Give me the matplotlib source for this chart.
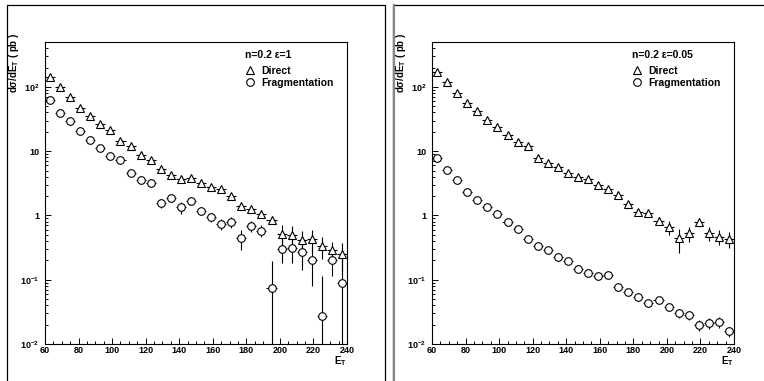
import numpy as np
import matplotlib
matplotlib.use('Agg')
import matplotlib.pyplot as plt
from matplotlib.lines import Line2D
from matplotlib.ticker import MultipleLocator, LogLocator, NullFormatter

plt.rcParams['font.family'] = ['Liberation Sans', 'DejaVu Sans']
plt.rcParams['font.weight'] = 'bold'
plt.rcParams['mathtext.fontset'] = 'custom'
plt.rcParams['mathtext.rm'] = 'Liberation Sans:bold'
plt.rcParams['mathtext.bf'] = 'Liberation Sans:bold'
plt.rcParams['mathtext.default'] = 'bf'

# bin centres (E_T)
et = [63, 69, 75, 81, 87, 93, 99, 105, 111, 117, 123, 129, 135, 141, 147,
      153, 159, 165, 171, 177, 183, 189, 195, 201, 207, 213, 219, 225, 231, 237]

# left panel: n=0.2 eps=1
left_dir = [144, 101, 69, 47, 35, 26.7, 21, 14.4, 12.1, 8.7, 7.3, 5.3, 4.3, 3.7, 3.8,
            3.15, 2.8, 2.55, 2.0, 1.39, 1.25, 1.04, 0.86, 0.52, 0.49, 0.42, 0.43, 0.34, 0.29, 0.25]
left_dir_err = [3, 2, 1.5, 1.2, 1, 0.8, 0.7, 0.6, 0.5, 0.4, 0.4, 0.3, 0.3, 0.25, 0.25,
                0.22, 0.2, 0.18, 0.15, 0.12, 0.11, 0.1, 0.12, 0.19, 0.19, 0.16, 0.17, 0.13, 0.1, 0.12]
left_frag = [61.5, 39, 29, 20.5, 14.9, 11.2, 8.5, 7.3, 4.6, 3.5, 3.2, 1.58, 1.87, 1.34, 1.67,
             1.19, 0.95, 0.74, 0.79, 0.44, 0.69, 0.58, 0.074, 0.30, 0.31, 0.27, 0.20, 0.027, 0.20, 0.09]
left_frag_err = [2, 1.5, 1.2, 1, 0.8, 0.6, 0.5, 0.45, 0.35, 0.3, 0.28, 0.25, 0.25, 0.28, 0.22,
                 0.18, 0.16, 0.15, 0.15, 0.15, 0.13, 0.12, 0.12, 0.12, 0.13, 0.13, 0.12, 0.087, 0.085, 0.2]

# right panel: n=0.2 eps=0.05
right_dir = [172, 121, 80, 57, 42.7, 31, 24, 17.8, 14.1, 12.1, 7.8, 6.5, 5.6, 4.6, 4.0,
             3.7, 3.0, 2.6, 2.05, 1.53, 1.14, 1.1, 0.83, 0.65, 0.44, 0.53, 0.80, 0.53, 0.47, 0.43]
right_dir_err = [3, 2.2, 1.5, 1.1, 0.9, 0.7, 0.6, 0.5, 0.45, 0.4, 0.3, 0.28, 0.25, 0.22, 0.2,
                 0.2, 0.18, 0.16, 0.14, 0.12, 0.12, 0.13, 0.12, 0.16, 0.18, 0.14, 0.12, 0.13, 0.12, 0.12]
right_frag = [7.7, 5.1, 3.6, 2.3, 1.77, 1.36, 1.05, 0.80, 0.62, 0.43, 0.34, 0.29, 0.226, 0.193, 0.149,
              0.127, 0.114, 0.117, 0.077, 0.065, 0.054, 0.043, 0.049, 0.038, 0.030, 0.028, 0.020, 0.021, 0.022, 0.0157]
right_frag_err = [0.2, 0.15, 0.1, 0.07, 0.05, 0.04, 0.03, 0.025, 0.02, 0.015, 0.012, 0.01, 0.008, 0.007, 0.006,
                  0.005, 0.005, 0.005, 0.004, 0.004, 0.004, 0.006, 0.004, 0.004, 0.005, 0.004, 0.004, 0.004, 0.004, 0.003]

titles = ['n=0.2 \u03b5=1', 'n=0.2 \u03b5=0.05']
labels = ['Direct', 'Fragmentation']
yticks = [0.01, 0.1, 1, 10, 100]
yticklabels = ['10$^{-2}$', '10$^{-1}$', '1', '10', '10$^{2}$']
xticks = [60, 80, 100, 120, 140, 160, 180, 200, 220, 240]

W, H = 764, 381
fig = plt.figure(figsize=(W / 100, H / 100), dpi=100)


def fx(px):
    return px / W


def fy(py):
    return 1 - py / H


# pad borders
fig.add_artist(Line2D([fx(7), fx(7), fx(385), fx(385)], [0, fy(5), fy(5), 0], color='k', lw=0.9))
fig.add_artist(Line2D([fx(393), fx(393), 1.0], [0, fy(5), fy(5)], color='k', lw=0.9))
fig.add_artist(Line2D([fx(394), fx(394)], [0, fy(5)], color='#888888', lw=1.6))

panels = [
    (45, left_dir, left_dir_err, left_frag, left_frag_err, titles[0]),
    (432, right_dir, right_dir_err, right_frag, right_frag_err, titles[1]),
]

for x0, d, de, f, fe, title in panels:
    ax = fig.add_axes([fx(x0), fy(344), 302 / W, 302 / H])
    ax.set_yscale('log')
    ax.set_xlim(60, 240)
    ax.set_ylim(0.01, 500)

    ax.errorbar(et, d, yerr=de, xerr=3, fmt='^', ms=6, mfc='white', mec='k', mew=0.8,
                ecolor='k', elinewidth=0.8, capsize=0, zorder=3)
    ax.errorbar(et, f, yerr=fe, xerr=3, fmt='o', ms=5.5, mfc='white', mec='k', mew=0.8,
                ecolor='k', elinewidth=0.8, capsize=0, zorder=3)

    ax.set_yticks(yticks)
    ax.set_yticklabels(yticklabels)
    ax.yaxis.set_minor_locator(LogLocator(base=10, subs=np.arange(2, 10), numticks=20))
    ax.yaxis.set_minor_formatter(NullFormatter())
    ax.set_xticks(xticks)
    ax.xaxis.set_minor_locator(MultipleLocator(5))

    ax.tick_params(which='both', direction='in', top=False, right=False, width=0.7, labelsize=6.5)
    ax.tick_params(which='major', length=4.5)
    ax.tick_params(which='minor', length=2.5)
    ax.tick_params(axis='y', pad=4)
    ax.tick_params(axis='x', pad=1.5)
    for s in ax.spines.values():
        s.set_linewidth(0.8)

    ax.text(-0.102, 1.03, 'd\u03c3/dE$_{T}$ ( pb )', transform=ax.transAxes, rotation=90,
            ha='center', va='top', fontsize=7)
    ax.text(1.0, -0.035, 'E$_{T}$', transform=ax.transAxes, ha='right', va='top', fontsize=7)

    handles = [Line2D([], [], ls='none', marker='^', ms=6, mfc='white', mec='k', mew=0.8),
               Line2D([], [], ls='none', marker='o', ms=5.5, mfc='white', mec='k', mew=0.8)]
    leg = ax.legend(handles, labels, title=title, loc='upper left', bbox_to_anchor=(0.662, 0.972),
                    frameon=False, fontsize=7.5, title_fontsize=7.5, alignment='left',
                    handlelength=0.9, handletextpad=0.7, labelspacing=0.15, borderpad=0,
                    borderaxespad=0)
    leg._legend_box.sep = 4

fig.savefig('out.png', dpi=100)
